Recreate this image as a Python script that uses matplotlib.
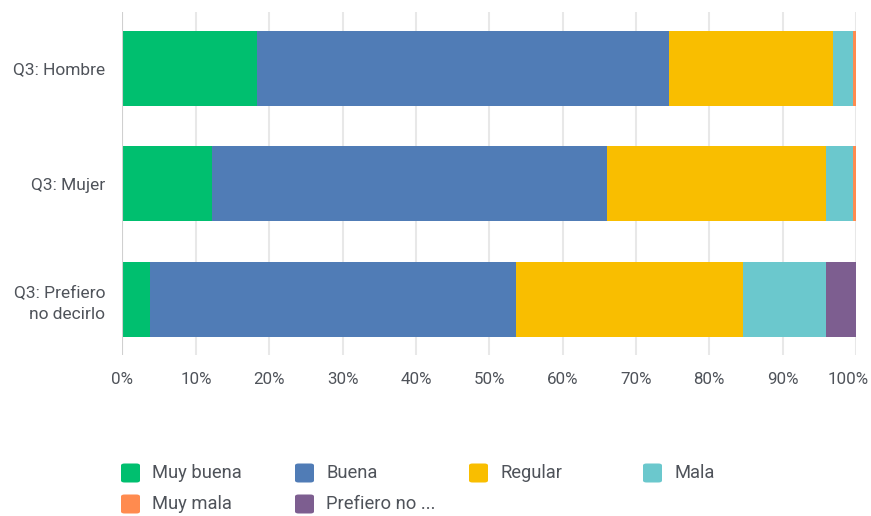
import matplotlib
matplotlib.use("Agg")
import matplotlib.pyplot as plt
from matplotlib.patches import FancyBboxPatch
from matplotlib.transforms import ScaledTranslation
import numpy as np

plt.rcParams['font.family'] = ['Roboto', 'DejaVu Sans']

groups = ["Q3: Hombre", "Q3: Mujer", "Q3: Prefiero\nno decirlo"]
categories = ["Muy buena", "Buena", "Regular", "Mala", "Muy mala", "Prefiero no ..."]
colors = ["#00BF6F", "#507CB6", "#F9BE00", "#6BC8CD", "#FF8B4F", "#7D5E90"]
# percentage per category, for each group (Hombre, Mujer, Prefiero no decirlo)
muy_buena = [18.3, 12.2, 3.8]
buena = [56.2, 53.8, 49.9]
regular = [22.3, 29.9, 30.9]
mala = [2.8, 3.7, 11.3]
muy_mala = [0.4, 0.4, 0.0]
prefiero_no = [0.0, 0.0, 4.1]
series = [muy_buena, buena, regular, mala, muy_mala, prefiero_no]
xticks = [0, 10, 20, 30, 40, 50, 60, 70, 80, 90, 100]
xticklabels = ["0%", "10%", "20%", "30%", "40%", "50%", "60%", "70%", "80%", "90%", "100%"]

fig = plt.figure(figsize=(8.71, 5.16), dpi=100)
ax = fig.add_axes([0.1406, 0.312, 0.8422, 0.6647])

y = np.arange(len(groups))
left = np.zeros(len(groups))
for vals, c in zip(series, colors):
    ax.barh(y, vals, left=left, height=0.65, color=c, zorder=3, linewidth=0)
    left += np.array(vals)

txt_color = '#4f535a'
ax.set_ylim(2.485, -0.49)
ax.set_xlim(0, 100)
ax.set_xticks(xticks)
ax.set_xticklabels(xticklabels)
ax.set_yticks(y)
ax.set_yticklabels(groups, ha='right', multialignment='right', linespacing=1.5)
ax.tick_params(axis='both', length=0, colors=txt_color)
ax.tick_params(axis='x', pad=12, labelsize=12.2)
ax.tick_params(axis='y', pad=12.5, labelsize=12.5)
for s in ax.spines.values():
    s.set_visible(False)
for t in xticks[1:]:
    ax.axvline(t, color='#e8e8e8', lw=1.5, zorder=1)
ax.axvline(0, color='#d0d0d0', lw=1.5, zorder=4)

# keep the last x tick label inside the canvas
lbl = ax.get_xticklabels()[-1]
lbl.set_transform(lbl.get_transform() + ScaledTranslation(-8 / 100, 0, fig.dpi_scale_trans))

# legend drawn manually in figure coordinates
W, H = 871, 516
col_x = [121, 295, 469, 643]
row_y = [473, 504]
for i, (lab, c) in enumerate(zip(categories, colors)):
    r, k = divmod(i, 4)
    x0 = col_x[k]
    yc = row_y[r]
    sz = 19
    p = FancyBboxPatch(((x0) / W, (H - yc - sz / 2) / H), sz / W, sz / H,
                       boxstyle="round,pad=0,rounding_size=0.004",
                       transform=fig.transFigure, facecolor=c, edgecolor='none')
    fig.add_artist(p)
    fig.text((x0 + 31) / W, (H - yc) / H, lab, fontsize=13.2, color=txt_color,
             va='center', ha='left')

fig.savefig("out.png", dpi=100)
